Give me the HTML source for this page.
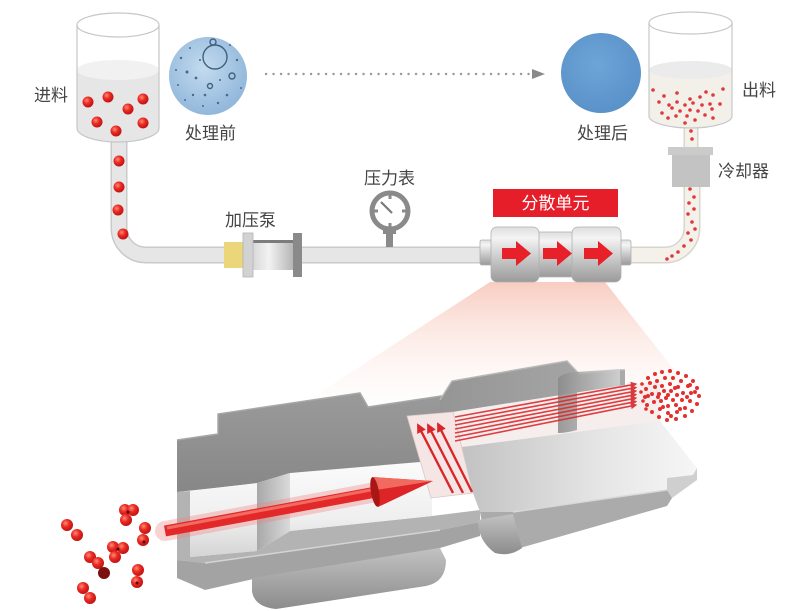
<!DOCTYPE html>
<html><head><meta charset="utf-8"><style>
html,body{margin:0;padding:0;background:#fff;}
svg{display:block;}
text{font-family:"Liberation Sans","Noto Sans CJK SC",sans-serif;}
</style></head><body>
<svg width="800" height="611" viewBox="0 0 800 611" xmlns="http://www.w3.org/2000/svg">
<defs>
<radialGradient id="ball" cx="0.38" cy="0.35" r="0.7"><stop offset="0" stop-color="#ff8a7a"/><stop offset="0.45" stop-color="#ea2a22"/><stop offset="1" stop-color="#b81010"/></radialGradient>
<radialGradient id="before" cx="0.45" cy="0.4" r="0.65"><stop offset="0" stop-color="#c3dbef"/><stop offset="1" stop-color="#8db4d9"/></radialGradient>
<radialGradient id="after" cx="0.45" cy="0.4" r="0.65"><stop offset="0" stop-color="#6ea5d8"/><stop offset="1" stop-color="#5890c8"/></radialGradient>
<linearGradient id="beam" gradientUnits="userSpaceOnUse" x1="0" y1="282" x2="0" y2="430"><stop offset="0" stop-color="#f6c0b2" stop-opacity="0.8"/><stop offset="0.45" stop-color="#fbe2da" stop-opacity="0.5"/><stop offset="1" stop-color="#ffffff" stop-opacity="0"/></linearGradient>
<linearGradient id="unit" x1="0" y1="0" x2="0" y2="1"><stop offset="0" stop-color="#dedede"/><stop offset="0.2" stop-color="#f4f4f4"/><stop offset="0.6" stop-color="#c6c6c6"/><stop offset="1" stop-color="#9a9a9a"/></linearGradient>
<linearGradient id="pumpc" x1="0" y1="0" x2="1" y2="0"><stop offset="0" stop-color="#d8d8d8"/><stop offset="0.4" stop-color="#f2f2f2"/><stop offset="1" stop-color="#b6b6b6"/></linearGradient>
<linearGradient id="chan" x1="0" y1="0" x2="0" y2="1"><stop offset="0" stop-color="#fbfbfb"/><stop offset="0.6" stop-color="#efefef"/><stop offset="1" stop-color="#d4d4d4"/></linearGradient>
<linearGradient id="cone" x1="0" y1="0" x2="1" y2="0"><stop offset="0" stop-color="#a8a8a8"/><stop offset="1" stop-color="#dadada"/></linearGradient>
<linearGradient id="lback" x1="0" y1="0" x2="0" y2="1"><stop offset="0" stop-color="#9a9a9a"/><stop offset="1" stop-color="#878787"/></linearGradient>
<linearGradient id="rback" x1="0" y1="0" x2="1" y2="0"><stop offset="0" stop-color="#959595"/><stop offset="1" stop-color="#aaaaaa"/></linearGradient>
<linearGradient id="rcut" x1="0" y1="0" x2="1" y2="0"><stop offset="0" stop-color="#c2c2c2"/><stop offset="0.6" stop-color="#e6e6e6"/><stop offset="1" stop-color="#f6f6f6"/></linearGradient>
<linearGradient id="cyl" x1="0" y1="0" x2="0" y2="1"><stop offset="0" stop-color="#c2c2c2"/><stop offset="1" stop-color="#8c8c8c"/></linearGradient>
<linearGradient id="ring" x1="0" y1="0" x2="1" y2="0"><stop offset="0" stop-color="#8a8a8a"/><stop offset="1" stop-color="#d4d4d4"/></linearGradient>
<marker id="ah" viewBox="0 0 10 10" refX="8" refY="5" markerWidth="4" markerHeight="4" orient="auto"><path d="M0,0 L10,5 L0,10 Z" fill="#d8262a"/></marker>
</defs>

<!-- pink beam -->
<polygon points="490,282 605,282 690,390 270,425" fill="url(#beam)"/>

<!-- dotted arrow -->
<line x1="266" y1="74" x2="530" y2="74" stroke="#9a9a9a" stroke-width="2.4" stroke-linecap="round" stroke-dasharray="0.1 7.4"/>
<polygon points="532,69 545,74 532,79" fill="#8a8a8a"/>

<!-- left pipe -->
<path d="M119,138 V228 A27,27 0 0 0 146,255 H482" fill="none" stroke="#cacaca" stroke-width="17"/>
<path d="M119,138 V228 A27,27 0 0 0 146,255 H482" fill="none" stroke="#e6e6e6" stroke-width="14"/>
<!-- right pipe -->
<path d="M630,255 H665 A27,27 0 0 0 692,228 V186" fill="none" stroke="#d8d5cb" stroke-width="17"/>
<path d="M630,255 H665 A27,27 0 0 0 692,228 V186" fill="none" stroke="#f3f1e9" stroke-width="14"/>
<path d="M691,122 V148" fill="none" stroke="#d8d5cb" stroke-width="15"/>
<path d="M691,122 V148" fill="none" stroke="#f3f1e9" stroke-width="12"/>

<!-- pipe balls -->
<g fill="url(#ball)">
<circle cx="119" cy="161" r="5.5"/><circle cx="119" cy="187" r="5.5"/><circle cx="118" cy="210" r="5.5"/><circle cx="123" cy="234" r="5.5"/>
</g>
<g fill="#e0393a">
<circle cx="691" cy="131" r="1.8"/><circle cx="692" cy="139" r="1.8"/>
<circle cx="690" cy="189" r="1.8"/><circle cx="694" cy="197" r="1.8"/><circle cx="689" cy="203" r="1.8"/><circle cx="694" cy="209" r="1.8"/><circle cx="688" cy="214" r="1.8"/><circle cx="692" cy="222" r="1.8"/><circle cx="695" cy="229" r="1.8"/><circle cx="688" cy="233" r="1.8"/><circle cx="691" cy="240" r="1.8"/><circle cx="684" cy="246" r="1.8"/><circle cx="678" cy="252" r="1.8"/><circle cx="672" cy="256" r="1.8"/><circle cx="667" cy="259" r="1.8"/>
</g>

<!-- left beaker -->
<path d="M77,70 V128 A41,14 0 0 0 159,128 V70 Z" fill="#e6e6e6"/>
<ellipse cx="118" cy="70" rx="41" ry="10" fill="#f1f1f1"/>
<path d="M77,25 V128 A41,14 0 0 0 159,128 V25" fill="none" stroke="#c6c6c6" stroke-width="1.2"/>
<ellipse cx="118" cy="25" rx="41" ry="12" fill="none" stroke="#c6c6c6" stroke-width="1.2"/>
<g fill="url(#ball)">
<circle cx="88" cy="102" r="5.5"/><circle cx="108" cy="97" r="5.5"/><circle cx="128" cy="109" r="5.5"/><circle cx="143" cy="99" r="5.5"/><circle cx="97" cy="122" r="5.5"/><circle cx="116" cy="131" r="5.5"/><circle cx="143" cy="123" r="5.5"/>
</g>

<!-- right beaker -->
<path d="M649,70 V116 A41.5,12 0 0 0 732,116 V70 Z" fill="#f2f0e9"/>
<ellipse cx="690.5" cy="70" rx="41.5" ry="9" fill="#ebebeb"/>
<path d="M649,23 V116 A41.5,12 0 0 0 732,116 V23" fill="none" stroke="#c8c8c8" stroke-width="1.2"/>
<ellipse cx="690.5" cy="23" rx="41.5" ry="11" fill="none" stroke="#c8c8c8" stroke-width="1.2"/>
<g fill="#e0393a">
<circle cx="653" cy="90" r="1.8"/><circle cx="664" cy="96" r="1.8"/><circle cx="677" cy="93" r="1.8"/><circle cx="690" cy="99" r="1.8"/><circle cx="700" cy="97" r="1.8"/><circle cx="706" cy="92" r="1.8"/><circle cx="713" cy="95" r="1.8"/><circle cx="723" cy="89" r="1.8"/>
<circle cx="659" cy="102" r="1.8"/><circle cx="669" cy="105" r="1.8"/><circle cx="677" cy="102" r="1.8"/><circle cx="685" cy="105" r="1.8"/><circle cx="693" cy="103" r="1.8"/><circle cx="702" cy="105" r="1.8"/><circle cx="710" cy="104" r="1.8"/><circle cx="720" cy="104" r="1.8"/>
<circle cx="672" cy="108" r="1.8"/><circle cx="680" cy="111" r="1.8"/><circle cx="690" cy="110" r="1.8"/><circle cx="698" cy="111" r="1.8"/><circle cx="712" cy="109" r="1.8"/>
<circle cx="662" cy="113" r="1.8"/><circle cx="668" cy="118" r="1.8"/><circle cx="676" cy="116" r="1.8"/><circle cx="687" cy="116" r="1.8"/><circle cx="695" cy="120" r="1.8"/><circle cx="705" cy="115" r="1.8"/><circle cx="713" cy="118" r="1.8"/><circle cx="685" cy="123" r="1.8"/>
</g>

<!-- cooler -->
<rect x="672" y="155" width="38" height="32" fill="#c3c3c3"/>
<rect x="668" y="147" width="45" height="8" fill="#cbcbcb"/>

<!-- before / after circles -->
<circle cx="208" cy="76" r="39" fill="url(#before)"/>
<g fill="none" stroke="#40627f" stroke-width="1.4">
<circle cx="215" cy="57" r="12"/><circle cx="213" cy="42" r="3"/><circle cx="232" cy="76" r="3"/><circle cx="210" cy="86" r="2.5"/>
</g>
<g fill="#4a6a88">
<circle cx="181" cy="58" r="1.2"/><circle cx="187" cy="72" r="1.5"/><circle cx="193" cy="95" r="1.2"/><circle cx="178" cy="85" r="1"/><circle cx="200" cy="60" r="1"/><circle cx="227" cy="95" r="1.3"/><circle cx="237" cy="60" r="1.2"/><circle cx="241" cy="88" r="1"/><circle cx="218" cy="103" r="1.2"/><circle cx="203" cy="106" r="1"/><circle cx="196" cy="78" r="1.4"/><circle cx="220" cy="80" r="1"/><circle cx="185" cy="100" r="1"/><circle cx="176" cy="70" r="1"/><circle cx="230" cy="45" r="1"/><circle cx="205" cy="95" r="1.3"/><circle cx="190" cy="48" r="1"/>
</g>
<circle cx="601" cy="73" r="40" fill="url(#after)"/>

<!-- pump -->
<rect x="224" y="242" width="20" height="26" fill="#ebd77a"/>
<rect x="253" y="240" width="40" height="30" fill="url(#pumpc)"/>
<rect x="253" y="240" width="40" height="3" fill="#7c7c7c"/>
<rect x="243" y="233" width="10" height="44" fill="#d2d2d2" stroke="#b4b4b4" stroke-width="0.8"/>
<rect x="293" y="233" width="9" height="44" fill="#8a8a8a"/>

<!-- gauge -->
<rect x="386" y="230" width="7" height="17" fill="#8a8a8a"/>
<rect x="383" y="229" width="13" height="5" fill="#8a8a8a"/>
<circle cx="390" cy="211" r="18" fill="#fff" stroke="#8a8a8a" stroke-width="5"/>
<g stroke="#8a8a8a" stroke-width="3">
<line x1="390" y1="193" x2="390" y2="199"/><line x1="390" y1="223" x2="390" y2="229"/><line x1="372" y1="211" x2="378" y2="211"/><line x1="402" y1="211" x2="408" y2="211"/>
</g>
<line x1="381" y1="202" x2="392" y2="213" stroke="#7a7a7a" stroke-width="2.2"/>

<!-- dispersion unit -->
<rect x="493" y="189" width="125" height="28" fill="#e61e2a"/>
<text x="555.5" y="209" font-size="17" fill="#fff" text-anchor="middle">分散单元</text>
<rect x="480" y="240" width="13" height="25" rx="2" fill="url(#unit)" stroke="#b0b0b0" stroke-width="0.8"/>
<rect x="619" y="240" width="12" height="25" rx="2" fill="url(#unit)" stroke="#b0b0b0" stroke-width="0.8"/>
<rect x="535" y="232" width="40" height="45" fill="url(#unit)" stroke="#b4b4b4" stroke-width="0.8"/>
<rect x="491" y="227" width="48" height="55" rx="6" fill="url(#unit)" stroke="#b0b0b0" stroke-width="0.8"/>
<rect x="572" y="227" width="49" height="55" rx="6" fill="url(#unit)" stroke="#b0b0b0" stroke-width="0.8"/>
<g fill="#e8202a">
<polygon points="502,248 516,248 516,241 531,253.5 516,266 516,259 502,259"/>
<polygon points="543,248 557,248 557,241 572,253.5 557,266 557,259 543,259"/>
<polygon points="584,248 598,248 598,241 613,253.5 598,266 598,259 584,259"/>
</g>

<!-- labels -->
<g font-size="17" fill="#444">
<text x="34" y="101">进料</text>
<text x="185" y="139">处理前</text>
<text x="577" y="139">处理后</text>
<text x="742" y="96">出料</text>
<text x="718" y="177">冷却器</text>
<text x="225" y="226">加压泵</text>
<text x="364" y="184">压力表</text>
</g>

<!-- ===== 3D block ===== -->
<!-- left block -->
<polygon points="177,440 218,434 218,414 360,393 368,407 455,394 455,462 177,492" fill="url(#lback)"/>
<polyline points="177,440 218,434 218,414 360,393 368,407 455,394" fill="none" stroke="#a8a8a8" stroke-width="1.5"/>
<polygon points="177,492 190,491 190,557 257,551 290,531 432,516 480,510 480,522 440,530 205,563 177,560" fill="#b3b3b3"/>
<polygon points="190,491 257,483 290,473 432,461 432,516 290,531 257,551 190,557" fill="url(#chan)"/>
<polygon points="257,483 290,473 290,531 257,551" fill="url(#cone)"/>
<polygon points="177,560 205,563 440,530 480,522 480,536 440,548 258,578 205,590 177,578" fill="#a3a3a3"/>
<line x1="205" y1="563" x2="440" y2="530" stroke="#d4d4d4" stroke-width="1.5"/>
<path d="M252,578 L440,548 L446,560 Q446,582 426,586 L276,609 Q255,607 252,592 Z" fill="url(#cyl)"/>

<!-- right block -->
<polygon points="440,400 452,381 567,361 580,375 617,370 625,370 625,385 440,414" fill="url(#rback)"/>
<polyline points="440,400 452,381 567,361 580,375 617,370 625,370" fill="none" stroke="#b8b8b8" stroke-width="1.5"/>
<polygon points="440,414 625,385 660,381 660,421 473,447 455,447" fill="#f6eeed"/>
<path d="M558,378 Q565,372 577,372 L620,369 L620,386 L577,392 L577,430 Q566,433 558,433 Z" fill="url(#ring)" opacity="0.85"/>
<polygon points="407,416 453,412 473,493 431,498" fill="#f5e6e5" stroke="#d8c8c8" stroke-width="0.8"/>
<polygon points="462,447 660,421 697,468 693,475 667,478 667,490 513,512 480,512 473,493" fill="url(#rcut)"/>
<polygon points="667,478 693,475 697,468 697,480 672,498 667,490" fill="#cfcfcf"/>
<polygon points="480,512 513,512 667,490 672,498 667,506 520,548 485,540" fill="#ababab"/>
<line x1="513" y1="512" x2="667" y2="490" stroke="#d8d8d8" stroke-width="1.5"/>
<path d="M478,520 L513,514 L522,548 Q510,557 495,553 Q478,541 478,520 Z" fill="url(#cyl)"/>

<!-- red lines in channel -->
<g stroke="#dd2a2e" stroke-width="1.6" marker-end="url(#ah)" opacity="0.9">
<line x1="455" y1="417" x2="636" y2="384"/>
<line x1="455" y1="421" x2="636" y2="387.5"/>
<line x1="455" y1="425" x2="636" y2="391"/>
<line x1="455" y1="429" x2="636" y2="394.5"/>
<line x1="455" y1="433" x2="636" y2="398"/>
<line x1="455" y1="437" x2="636" y2="401.5"/>
<line x1="455" y1="441" x2="636" y2="405"/>
</g>
<!-- up arrows in chamber -->
<g stroke="#d8262a" stroke-width="2.4" marker-end="url(#ah)">
<line x1="453" y1="493" x2="418" y2="425"/>
<line x1="463" y1="493" x2="428" y2="425"/>
<line x1="472" y1="492" x2="438" y2="424"/>
</g>

<!-- big red arrow -->
<line x1="165" y1="531" x2="376" y2="492" stroke="#f08080" stroke-width="20" stroke-linecap="round" opacity="0.35"/>
<line x1="165" y1="531" x2="376" y2="492" stroke="#e3282a" stroke-width="11"/>
<line x1="167" y1="528" x2="376" y2="489" stroke="#f26a60" stroke-width="3"/>
<polygon points="372,477 378,507 433,481" fill="#dd2426"/>
<polygon points="372,477 433,481 376,490" fill="#f06a60"/>
<ellipse cx="375" cy="492" rx="4" ry="15" fill="#a81616" transform="rotate(-10 375 492)"/>

<!-- cloud of dots -->
<g fill="#e2302f">
<circle cx="648" cy="378" r="2"/><circle cx="655" cy="374" r="2"/><circle cx="662" cy="372" r="2"/><circle cx="670" cy="371" r="2"/><circle cx="678" cy="373" r="2"/><circle cx="686" cy="376" r="2"/><circle cx="693" cy="381" r="2"/><circle cx="697" cy="388" r="2"/><circle cx="699" cy="396" r="2"/><circle cx="697" cy="404" r="2"/><circle cx="692" cy="411" r="2"/><circle cx="685" cy="416" r="2"/><circle cx="676" cy="419" r="2"/><circle cx="667" cy="420" r="2"/><circle cx="659" cy="417" r="2"/><circle cx="652" cy="412" r="2"/><circle cx="647" cy="405" r="2"/><circle cx="645" cy="397" r="2"/><circle cx="646" cy="389" r="2"/><circle cx="650" cy="383" r="2"/>
<circle cx="657" cy="381" r="2"/><circle cx="665" cy="378" r="2"/><circle cx="673" cy="378" r="2"/><circle cx="681" cy="381" r="2"/><circle cx="688" cy="386" r="2"/><circle cx="691" cy="393" r="2"/><circle cx="690" cy="401" r="2"/><circle cx="685" cy="408" r="2"/><circle cx="677" cy="412" r="2"/><circle cx="668" cy="413" r="2"/><circle cx="660" cy="409" r="2"/><circle cx="654" cy="402" r="2"/><circle cx="652" cy="394" r="2"/><circle cx="655" cy="387" r="2"/><circle cx="662" cy="386" r="2"/><circle cx="670" cy="384" r="2"/><circle cx="678" cy="387" r="2"/><circle cx="683" cy="393" r="2"/><circle cx="682" cy="400" r="2"/><circle cx="676" cy="405" r="2"/><circle cx="668" cy="406" r="2"/><circle cx="661" cy="401" r="2"/><circle cx="659" cy="394" r="2"/><circle cx="664" cy="391" r="2"/><circle cx="671" cy="391" r="2"/><circle cx="677" cy="395" r="2"/><circle cx="673" cy="400" r="2"/><circle cx="666" cy="398" r="2"/><circle cx="668" cy="395" r="2"/><circle cx="675" cy="388" r="2"/><circle cx="658" cy="397" r="2"/><circle cx="687" cy="397" r="2"/><circle cx="663" cy="407" r="2"/><circle cx="680" cy="409" r="2"/><circle cx="671" cy="416" r="2"/><circle cx="690" cy="385" r="2"/><circle cx="648" cy="396" r="2"/><circle cx="695" cy="392" r="2"/>
<circle cx="642" cy="384" r="1.8"/><circle cx="641" cy="392" r="1.8"/><circle cx="643" cy="401" r="1.8"/><circle cx="646" cy="409" r="1.8"/>
</g>

<!-- left particles -->
<g fill="url(#ball)">
<circle cx="67" cy="525" r="6"/><circle cx="77" cy="535" r="6"/>
<circle cx="125" cy="510" r="6"/><circle cx="133" cy="510" r="6"/><circle cx="126" cy="520" r="6"/>
<circle cx="145" cy="528" r="6"/><circle cx="143" cy="540" r="6"/>
<circle cx="113" cy="547" r="6"/><circle cx="123" cy="548" r="6"/><circle cx="115" cy="557" r="6"/>
<circle cx="90" cy="557" r="6"/><circle cx="98" cy="563" r="6"/>
<circle cx="138" cy="570" r="6"/><circle cx="137" cy="582" r="6"/>
<circle cx="83" cy="588" r="6"/><circle cx="90" cy="598" r="6"/>
</g>
<circle cx="104" cy="573" r="6" fill="#7a1010"/>
<g fill="#5a0a0a">
<circle cx="128" cy="512" r="1.5"/><circle cx="144" cy="542" r="1.5"/><circle cx="118" cy="549" r="1.5"/><circle cx="137" cy="583" r="1.5"/>
</g>
</svg>
</body></html>
